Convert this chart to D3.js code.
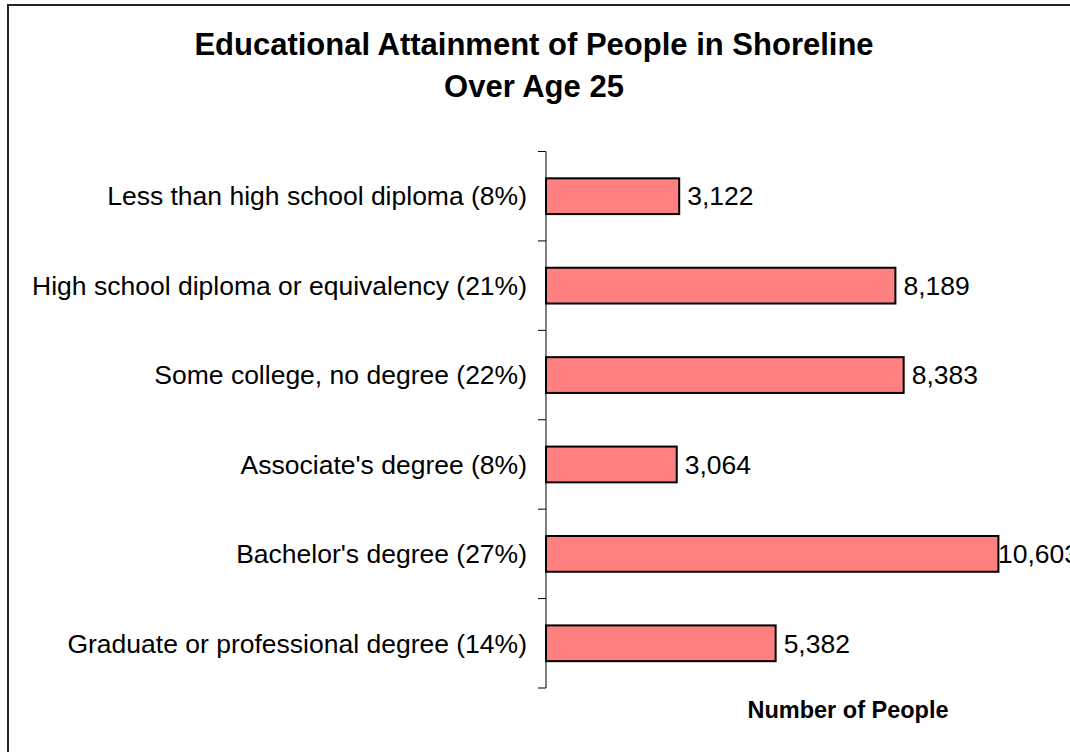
<!DOCTYPE html>
<html>
<head>
<meta charset="utf-8">
<script src="https://cdn.jsdelivr.net/npm/d3@7/dist/d3.min.js"></script>
<style>
  html, body { margin: 0; padding: 0; background: #fff; }
  svg { display: block; font-family: "Liberation Sans", Arial, sans-serif; }
</style>
</head>
<body>
<svg id="chart" width="1070" height="752"></svg>
<script>
// Educational attainment categories (with share of total) and counts
const categories = [
  "Less than high school diploma (8%)",
  "High school diploma or equivalency (21%)",
  "Some college, no degree (22%)",
  "Associate's degree (8%)",
  "Bachelor's degree (27%)",
  "Graduate or professional degree (14%)"
];
const counts = [3122, 8189, 8383, 3064, 10603, 5382];
const titleLines = ["Educational Attainment of People in Shoreline", "Over Age 25"];
const axisTitle = "Number of People";

const svg = d3.select("#chart");
const W = 1070, H = 752;

// outer frame (runs off the right and bottom edges)
svg.append("rect")
  .attr("x", 8).attr("y", 5)
  .attr("width", W + 20).attr("height", H + 20)
  .attr("fill", "#fff")
  .attr("stroke", "#222").attr("stroke-width", 2);

const plot = { left: 546, right: 1058, top: 151.5, bottom: 688 };
const labelSize = 26.5;

const x = d3.scaleLinear().domain([0, 12000]).range([plot.left, plot.right]);
const y = d3.scaleBand()
  .domain(categories)
  .range([plot.top, plot.bottom])
  .paddingInner(0.6)
  .paddingOuter(0.3);

const fmt = d3.format(",");

// title
titleLines.forEach((t, i) => {
  svg.append("text")
    .attr("x", 534).attr("y", 55 + i * 42)
    .attr("text-anchor", "middle")
    .attr("font-size", 31).attr("font-weight", "bold")
    .text(t);
});

// bars
svg.append("g").selectAll("rect")
  .data(counts)
  .join("rect")
  .attr("x", x(0))
  .attr("y", (d, i) => y(categories[i]))
  .attr("width", d => x(d) - x(0))
  .attr("height", y.bandwidth())
  .attr("fill", "#FF8080")
  .attr("stroke", "#000")
  .attr("stroke-width", 2);

// value labels, kept from running past the chart area's right side
const maxRight = 1079;
svg.append("g").selectAll("text")
  .data(counts)
  .join("text")
  .attr("y", (d, i) => y(categories[i]) + y.bandwidth() / 2)
  .attr("dy", "0.35em")
  .attr("font-size", labelSize)
  .text(d => fmt(d))
  .attr("x", function(d) {
    const w = this.getComputedTextLength();
    return Math.min(x(d) + 8, maxRight - w);
  });

// category axis: line with ticks on band boundaries
const axis = svg.append("g");
axis.append("line")
  .attr("x1", plot.left).attr("x2", plot.left)
  .attr("y1", plot.top).attr("y2", plot.bottom)
  .attr("stroke", "#000").attr("stroke-width", 1);
const step = y.step();
const bounds = d3.range(categories.length + 1).map(i => plot.top + i * step);
axis.selectAll("line.tick")
  .data(bounds)
  .join("line")
  .attr("class", "tick")
  .attr("x1", plot.left - 8).attr("x2", plot.left)
  .attr("y1", d => d).attr("y2", d => d)
  .attr("stroke", "#000").attr("stroke-width", 1);

axis.selectAll("text")
  .data(categories)
  .join("text")
  .attr("x", plot.left - 19)
  .attr("y", d => y(d) + y.bandwidth() / 2)
  .attr("dy", "0.35em")
  .attr("text-anchor", "end")
  .attr("font-size", labelSize)
  .text(d => d);

// value axis title
svg.append("text")
  .attr("x", 848).attr("y", 718)
  .attr("text-anchor", "middle")
  .attr("font-size", 23.5).attr("font-weight", "bold")
  .text(axisTitle);
</script>
</body>
</html>
